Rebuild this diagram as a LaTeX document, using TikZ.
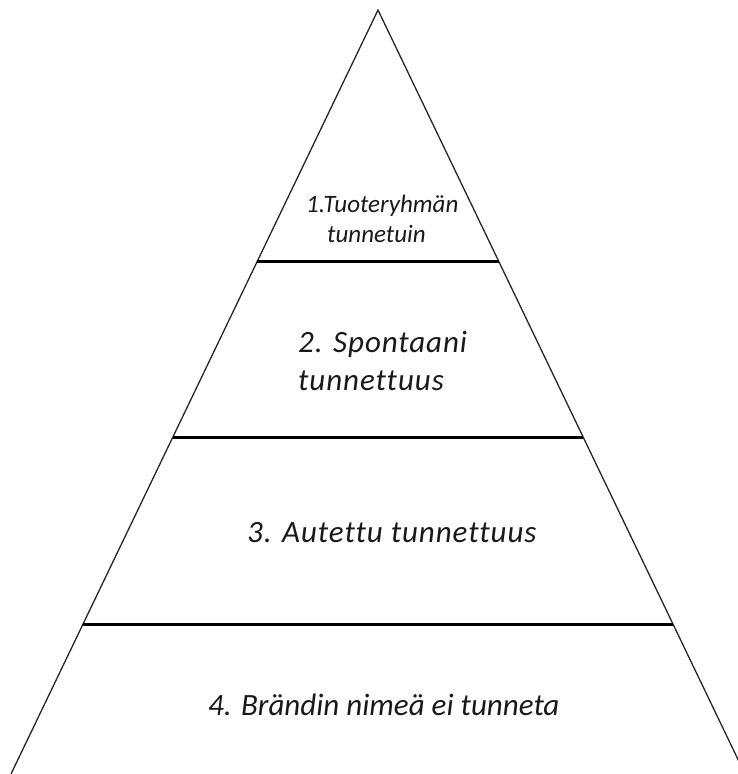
\documentclass[tikz,border=0pt]{standalone}
\usepackage{fontspec}
\setmainfont{Carlito}[Ligatures={NoCommon}]
\usetikzlibrary{calc}
\begin{document}
\begin{tikzpicture}[x=1pt,y=-1pt,
  side/.style={draw=black!85,line width=1.3pt},
  divider/.style={draw=black,line width=3pt},
  levelsmall/.style={anchor=base west,inner sep=0pt,font=\itshape\fontsize{25}{30}\selectfont,text=black!90},
  levellabel/.style={anchor=base west,inner sep=0pt,font=\itshape\fontsize{31}{36}\selectfont,text=black!90},
  wide/.style={font=\itshape\fontsize{31}{36}\selectfont\addfontfeature{LetterSpace=3}}]
\useasboundingbox (0,0) rectangle (738,774);
\clip (0,0) rectangle (738,774);
% pyramid outline
\coordinate (apex) at (378,10);
\coordinate (bl) at (11,774);
\coordinate (br) at (745,774);
\draw[side] (bl) -- (apex) -- (br);
% level dividers, placed on the sides
\coordinate (l1) at ($(apex)!{252/764}!(bl)$);
\coordinate (r1) at ($(apex)!{252/764}!(br)$);
\coordinate (l2) at ($(apex)!{427/764}!(bl)$);
\coordinate (r2) at ($(apex)!{427/764}!(br)$);
\coordinate (l3) at ($(apex)!{615/764}!(bl)$);
\coordinate (r3) at ($(apex)!{615/764}!(br)$);
\draw[divider] (l1) -- (r1);
\draw[divider] (l2) -- (r2);
\draw[divider] (l3) -- (r3);
% level labels
\node[levelsmall] (t1a) at (306,212) {1.Tuoteryhmän};
\node[levelsmall] (t1b) at (327,242) {tunnetuin};
\node[levellabel,wide] (t2a) at (298,352) {2. Spontaani};
\node[levellabel,wide] (t2b) at (298,390) {tunnettuus};
\node[levellabel,wide] (t3) at (247,542) {3. Autettu tunnettuus};
\node[levellabel] (t4) at (208,715) {4. Brändin nimeä ei tunneta};
\end{tikzpicture}
\end{document}
